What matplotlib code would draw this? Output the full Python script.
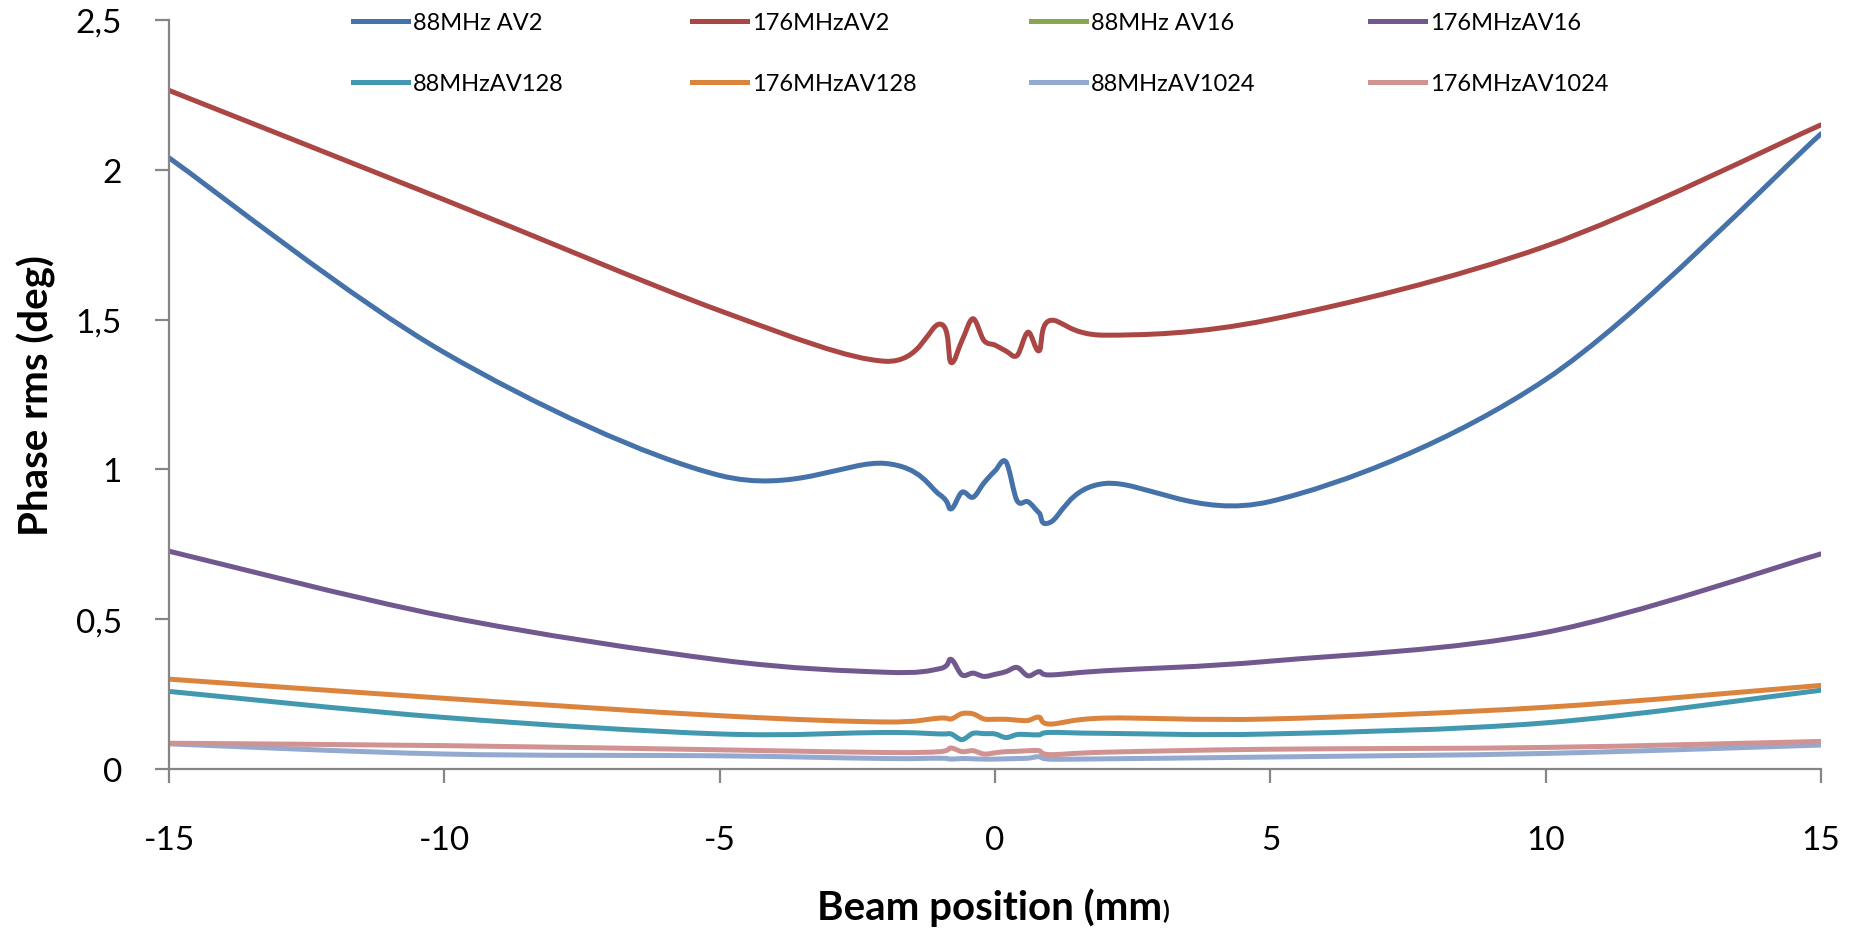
import numpy as np
import matplotlib
matplotlib.use("Agg")
import matplotlib.pyplot as plt
from matplotlib.path import Path
from matplotlib.patches import PathPatch
from matplotlib.lines import Line2D
from matplotlib.ticker import FuncFormatter

plt.rcParams["axes.unicode_minus"] = False

# beam position (mm)
pos = [-15, -10, -5, -2, -1, -0.8, -0.6, -0.4, -0.2, 0, 0.2, 0.4, 0.6, 0.8, 1, 2, 5, 10, 15]

# phase rms (deg) per series
av2_88 = [2.04, 1.39, 0.98, 1.02, 0.915, 0.868, 0.924, 0.907, 0.955, 0.995, 1.025, 0.896, 0.892, 0.855, 0.823, 0.953, 0.893, 1.30, 2.12]
av2_176 = [2.265, 1.90, 1.53, 1.361, 1.485, 1.357, 1.43, 1.503, 1.43, 1.415, 1.395, 1.38, 1.458, 1.396, 1.497, 1.448, 1.50, 1.745, 2.15]
av16_88 = []  # no visible trace in the chart
av16_176 = [0.727, 0.51, 0.364, 0.323, 0.335, 0.366, 0.314, 0.320, 0.309, 0.316, 0.325, 0.339, 0.311, 0.325, 0.314, 0.328, 0.360, 0.456, 0.718]
av128_88 = [0.259, 0.172, 0.117, 0.122, 0.117, 0.117, 0.098, 0.119, 0.118, 0.117, 0.105, 0.115, 0.115, 0.114, 0.122, 0.119, 0.117, 0.154, 0.263]
av128_176 = [0.300, 0.236, 0.178, 0.157, 0.170, 0.167, 0.185, 0.184, 0.167, 0.166, 0.166, 0.163, 0.162, 0.173, 0.150, 0.170, 0.167, 0.206, 0.279]
av1024_88 = [0.084, 0.050, 0.044, 0.035, 0.036, 0.033, 0.035, 0.034, 0.033, 0.033, 0.034, 0.035, 0.036, 0.041, 0.033, 0.034, 0.040, 0.052, 0.080]
av1024_176 = [0.086, 0.078, 0.064, 0.055, 0.058, 0.070, 0.058, 0.061, 0.050, 0.054, 0.058, 0.059, 0.061, 0.061, 0.048, 0.056, 0.066, 0.072, 0.092]

labels = ["88MHz AV2", "176MHzAV2", "88MHz AV16", "176MHzAV16",
          "88MHzAV128", "176MHzAV128", "88MHzAV1024", "176MHzAV1024"]
series = [av2_88, av2_176, av16_88, av16_176, av128_88, av128_176, av1024_88, av1024_176]
colors = ["#4672AA", "#AA4643", "#89A54E", "#71588F",
          "#4198AF", "#DB843D", "#93A9CF", "#D19392"]

FONT = ["Lato", "DejaVu Sans"]
LW = 3.6


def smooth_path(xs, ys):
    # excel style smoothed line: bezier segments through the points
    p = np.column_stack([xs, ys]).astype(float)
    n = len(p)
    verts = [p[0]]
    codes = [Path.MOVETO]
    for i in range(n - 1):
        p0 = p[i - 1] if i > 0 else p[i]
        p3 = p[i + 2] if i + 2 < n else p[i + 1]
        verts += [p[i] + (p[i + 1] - p0) / 6, p[i + 1] - (p3 - p[i]) / 6, p[i + 1]]
        codes += [Path.CURVE4] * 3
    return Path(verts, codes)


fig = plt.figure(figsize=(18.58, 9.29), dpi=100)
ax = fig.add_axes([169 / 1858, 1 - 770 / 929, (1821 - 169) / 1858, (770 - 21) / 929])

for ys, c in zip(series, colors):
    if len(ys) == 0:
        continue
    ax.add_patch(PathPatch(smooth_path(pos, ys), fill=False, edgecolor=c, lw=LW,
                           capstyle="round", joinstyle="round"))

ax.set_xlim(-15, 15)
ax.set_ylim(0, 2.5)
ax.set_xticks(range(-15, 16, 5))
ax.set_yticks(np.arange(0, 2.51, 0.5))
ax.yaxis.set_major_formatter(FuncFormatter(lambda v, p: ("%g" % v).replace(".", ",")))

for s in ["top", "right"]:
    ax.spines[s].set_visible(False)
for s in ["left", "bottom"]:
    ax.spines[s].set_color("#868686")
    ax.spines[s].set_linewidth(1.6)
ax.tick_params(axis="both", direction="out", length=10, width=1.6, color="#868686",
               labelsize=24)
ax.tick_params(axis="y", pad=24)
ax.tick_params(axis="x", pad=30)
for t in ax.get_xticklabels() + ax.get_yticklabels():
    t.set_family(FONT)

# axis titles
fig.text(36 / 1858, 1 - 396 / 929, "Phase rms (deg)", rotation=90, ha="center", va="center",
         fontsize=29, fontweight="bold", family=FONT)
xl = fig.text(990 / 1858, 1 - 908 / 929, "Beam position (mm", ha="center", va="center",
              fontsize=29, fontweight="bold", family=FONT)
ax.annotate(")", xy=(1, 0.1), xycoords=xl, ha="left", va="bottom",
            fontsize=18, fontweight="bold", family=FONT, annotation_clip=False)

# legend: four columns of two entries
col_x = [353, 692, 1031, 1370]
for k in range(4):
    idx = [k, k + 4]
    handles = [Line2D([], [], color=colors[i], lw=LW) for i in idx]
    fig.legend(handles, [labels[i] for i in idx], loc="upper left",
               bbox_to_anchor=(col_x[k] / 1858, 1 - 13 / 929), frameon=False,
               borderpad=0, borderaxespad=0, handlelength=2.33, handletextpad=0.22,
               labelspacing=1.7, prop={"family": FONT, "size": 17})

fig.savefig("out.png", dpi=100)
